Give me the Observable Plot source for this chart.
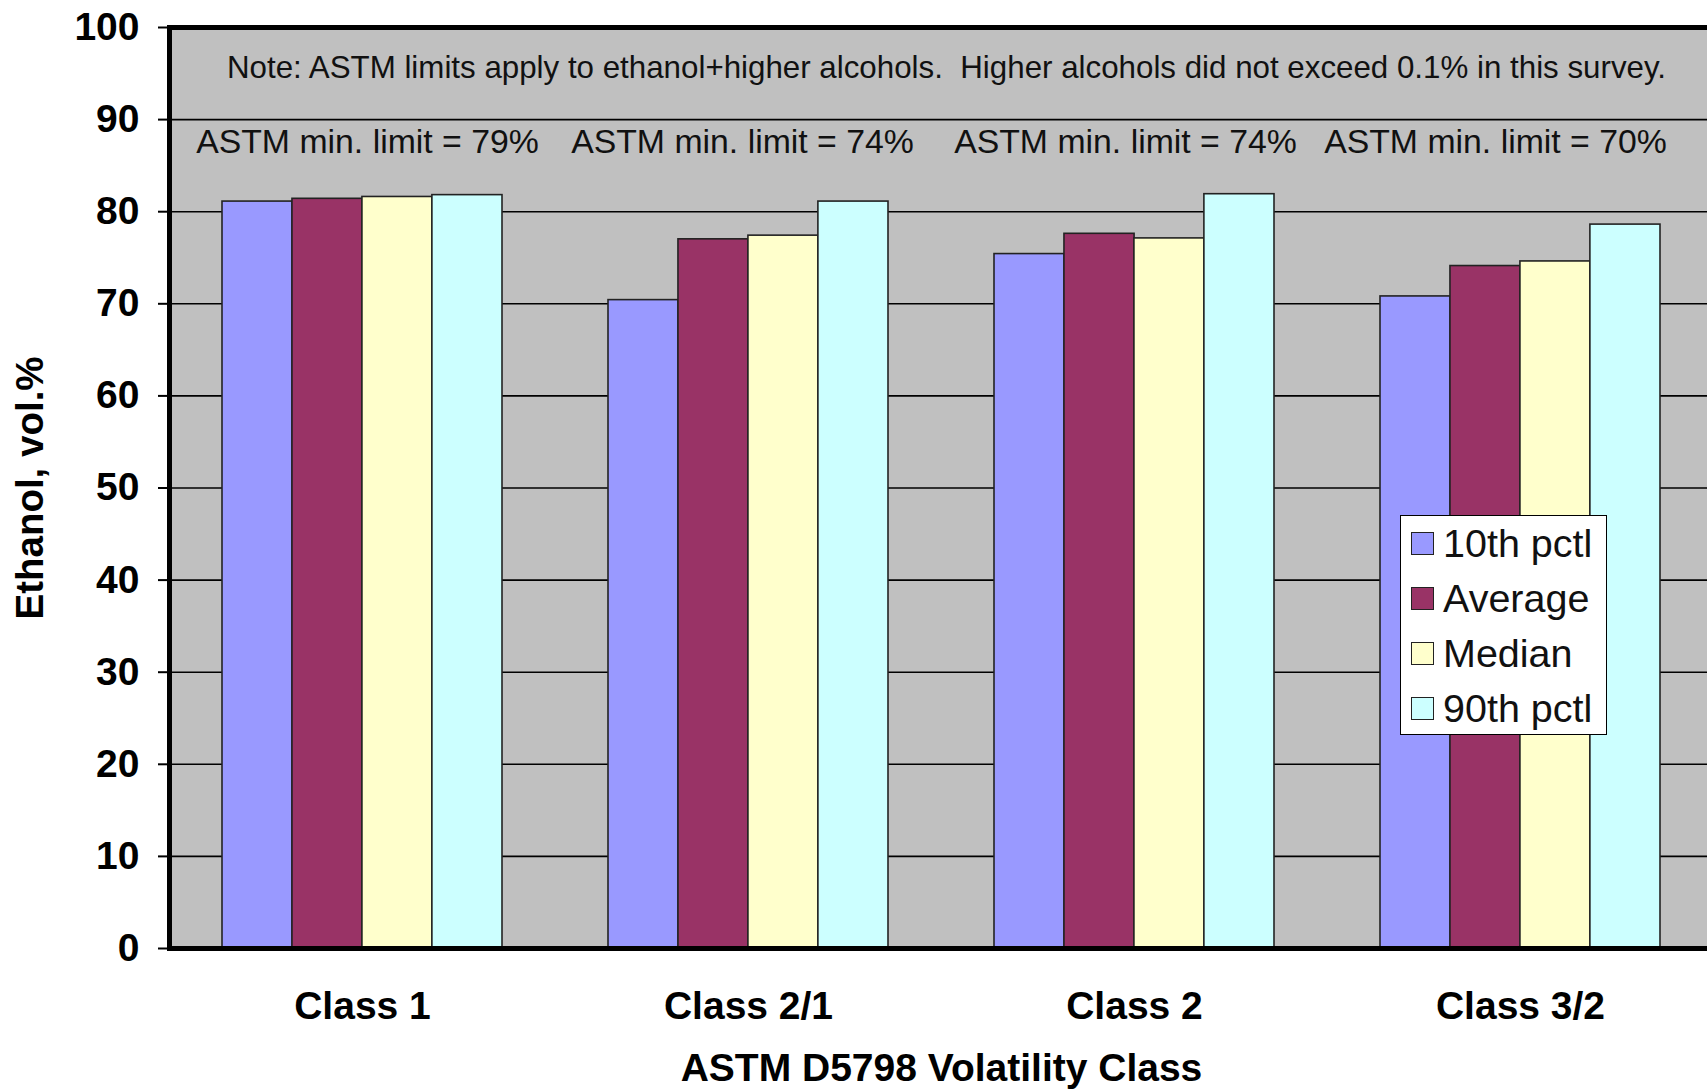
<!DOCTYPE html>
<html>
<head>
<meta charset="utf-8">
<script src="https://cdn.jsdelivr.net/npm/d3@7"></script>
<script src="https://cdn.jsdelivr.net/npm/@observablehq/plot@0.6"></script>
<style>
  html, body { margin: 0; padding: 0; background: white; overflow: hidden; }
  #wrap { position: relative; width: 1707px; height: 1091px; }
  #legend { position: absolute; left: 1400px; top: 515px; width: 207px; height: 220px;
    background: white; border: 1.5px solid black; box-sizing: border-box;
    font-family: "Liberation Sans", Arial, sans-serif; font-size: 39.5px; color: #111;
    padding-top: 0px; }
  #legend .row { display: flex; align-items: center; height: 55px; }
  #legend .sw { width: 23px; height: 23px; border: 1.5px solid #222; box-sizing: border-box;
    margin-left: 10px; margin-right: 9px; }
</style>
</head>
<body>
<div id="wrap"></div>
<script>
const classes = ["Class 1", "Class 2/1", "Class 2", "Class 3/2"];
const seriesNames = ["10th pctl", "Average", "Median", "90th pctl"];
const p10 = [81.1, 70.4, 75.4, 70.8];
const average = [81.4, 77.0, 77.6, 74.1];
const median = [81.6, 77.4, 77.1, 74.6];
const p90 = [81.8, 81.1, 81.9, 78.6];
const limitLabels = ["ASTM min. limit = 79%", "ASTM min. limit = 74%", "ASTM min. limit = 74%", "ASTM min. limit = 70%"];
const noteText = "Note: ASTM limits apply to ethanol+higher alcohols.  Higher alcohols did not exceed 0.1% in this survey.";
const yTicks = [0, 10, 20, 30, 40, 50, 60, 70, 80, 90, 100];
const xTitle = "ASTM D5798 Volatility Class";
const yTitle = "Ethanol, vol.%";
const colors = ["#9999FF", "#993366", "#FFFFCC", "#CCFFFF"];
const limitDx = [5, -6, -9, -25];

const seriesValues = [p10, average, median, p90];
const rows = [];
classes.forEach((c, ci) => seriesNames.forEach((s, si) => rows.push({cls: c, series: s, value: seriesValues[si][ci]})));

const font = "'Liberation Sans', Arial, sans-serif";
const W = 1707, H = 1091, ML = 169, MR = -6, MT = 27, MB = 143;
const xOpts = {type: "band", domain: classes, paddingInner: 0.275, paddingOuter: 0.1375};
const xProbe = Plot.scale({x: {...xOpts, range: [ML, W - MR]}});
const bw = xProbe.bandwidth / seriesNames.length;

const chart = Plot.plot({
  width: W,
  height: H,
  marginLeft: ML,
  marginRight: MR,
  marginTop: MT,
  marginBottom: MB,
  style: {fontFamily: font, color: "black", background: "transparent"},
  x: {...xOpts, axis: null},
  y: {domain: [0, 100], axis: null},
  color: {domain: seriesNames, range: colors},
  marks: [
    Plot.frame({fill: "#C0C0C0", stroke: "none"}),
    Plot.gridY(yTicks, {stroke: "black", strokeOpacity: 1, strokeWidth: 1.6}),
    ...seriesNames.map((s, i) => Plot.barY(rows.filter(r => r.series === s), {
      x: "cls", y: "value", fill: "series", stroke: "#222", strokeWidth: 1.6,
      insetLeft: i * bw, insetRight: (seriesNames.length - 1 - i) * bw
    })),
    Plot.text([noteText], {frameAnchor: "top", lineAnchor: "middle", textAnchor: "middle", dy: 40, dx: 5, fontSize: 31.3, fill: "#111"}),
    ...classes.map((c, i) => Plot.text([limitLabels[i]], {x: [c], frameAnchor: "top", lineAnchor: "middle", textAnchor: "middle", dy: 115, dx: limitDx[i], fontSize: 33.8, fill: "#111"})),
    Plot.axisY({ticks: yTicks, tickSize: 11, tickPadding: 19, strokeWidth: 2, fontSize: 39, fontWeight: "bold", label: null}),
    Plot.axisX({tickSize: 0, tickPadding: 43, fontSize: 39, fontWeight: "bold", label: null}),
    Plot.text([xTitle], {frameAnchor: "bottom", lineAnchor: "middle", textAnchor: "middle", dy: 120, fontSize: 39, fontWeight: "bold"}),
    Plot.text([yTitle], {frameAnchor: "left", lineAnchor: "middle", textAnchor: "middle", rotate: -90, dx: -139, fontSize: 38.5, fontWeight: "bold"}),
    Plot.frame({stroke: "black", strokeWidth: 5})
  ]
});

const wrap = document.getElementById("wrap");
wrap.appendChild(chart);

const legend = document.createElement("div");
legend.id = "legend";
seriesNames.forEach((s, i) => {
  const row = document.createElement("div");
  row.className = "row";
  const sw = document.createElement("span");
  sw.className = "sw";
  sw.style.background = colors[i];
  const t = document.createElement("span");
  t.textContent = s;
  row.appendChild(sw);
  row.appendChild(t);
  legend.appendChild(row);
});
wrap.appendChild(legend);
</script>
</body>
</html>
